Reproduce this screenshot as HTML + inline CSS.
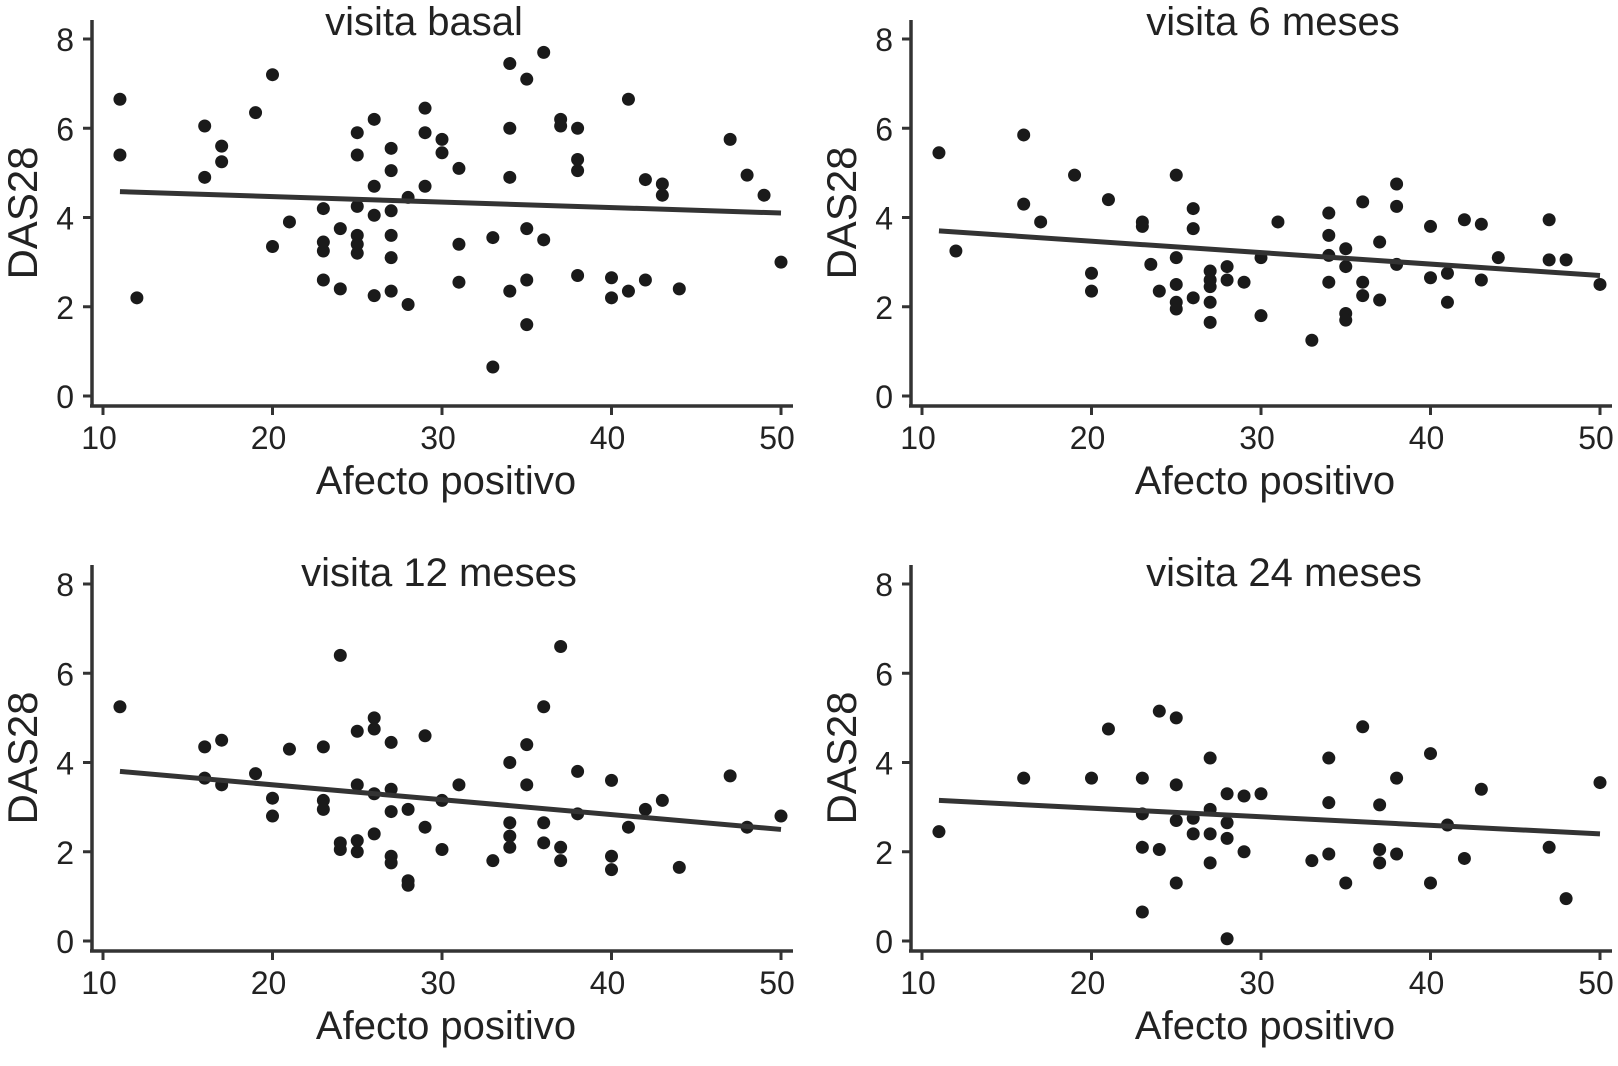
<!DOCTYPE html>
<html><head><meta charset="utf-8"><style>
html,body{margin:0;padding:0;background:#fff;}
svg text{font-family:"Liberation Sans",Arial,sans-serif;fill:#222;}
</style></head><body>
<svg id="chart" width="1618" height="1061" viewBox="0 0 1618 1061" xmlns="http://www.w3.org/2000/svg"></svg>
<script>
const panelTitles = ["visita basal","visita 6 meses","visita 12 meses","visita 24 meses"];
const xTicks = [10,20,30,40,50];
const yTicks = [0,2,4,6,8];
const p1x = [11,11,12,16,16,17,17,19,20,20,21,23,23,23,23,24,24,25,25,25,25,25,25,26,26,26,26,27,27,27,27,27,27,28,28,29,29,29,30,30,31,31,31,33,33,34,34,34,34,35,35,35,35,36,36,37,37,38,38,38,38,40,40,41,41,42,42,43,43,44,47,48,49,50];
const p1y = [6.65,5.4,2.2,6.05,4.9,5.6,5.25,6.35,7.2,3.35,3.9,4.2,3.45,3.25,2.6,3.75,2.4,5.9,5.4,4.25,3.6,3.4,3.2,6.2,4.7,4.05,2.25,5.55,5.05,4.15,3.6,3.1,2.35,4.45,2.05,6.45,5.9,4.7,5.75,5.45,5.1,3.4,2.55,3.55,0.65,7.45,6.0,4.9,2.35,7.1,3.75,2.6,1.6,7.7,3.5,6.2,6.05,6.0,5.3,5.05,2.7,2.65,2.2,6.65,2.35,4.85,2.6,4.75,4.5,2.4,5.75,4.95,4.5,3.0];
const p2x = [11,12,16,16,17,19,20,20,21,23,23,23.5,24,25,25,25,25,25,26,26,26,27,27,27,27,27,28,28,29,30,30,31,33,34,34,34,34,35,35,35,35,36,36,36,37,37,38,38,38,40,40,41,41,42,43,43,44,47,47,48,50];
const p2y = [5.45,3.25,5.85,4.3,3.9,4.95,2.75,2.35,4.4,3.9,3.8,2.95,2.35,4.95,3.1,2.5,2.1,1.95,4.2,3.75,2.2,2.8,2.6,2.45,2.1,1.65,2.9,2.6,2.55,3.1,1.8,3.9,1.25,3.6,4.1,3.15,2.55,3.3,2.9,1.85,1.7,4.35,2.55,2.25,3.45,2.15,4.75,4.25,2.95,3.8,2.65,2.75,2.1,3.95,3.85,2.6,3.1,3.95,3.05,3.05,2.5];
const p3x = [11,16,16,17,17,19,20,20,21,23,23,23,24,24,24,25,25,25,25,26,26,26,26,27,27,27,27,27,28,28,28,29,29,30,30,31,33,34,34,34,34,35,35,36,36,36,37,37,37,38,38,40,40,40,41,42,43,44,47,48,50];
const p3y = [5.25,4.35,3.65,4.5,3.5,3.75,3.2,2.8,4.3,4.35,3.15,2.95,6.4,2.2,2.05,4.7,3.5,2.25,2.0,5.0,4.75,3.3,2.4,4.45,3.4,2.9,1.9,1.75,2.95,1.35,1.25,4.6,2.55,3.15,2.05,3.5,1.8,4.0,2.65,2.35,2.1,4.4,3.5,5.25,2.65,2.2,6.6,2.1,1.8,3.8,2.85,3.6,1.9,1.6,2.55,2.95,3.15,1.65,3.7,2.55,2.8];
const p4x = [11,16,20,21,23,23,23,23,24,24,25,25,25,25,26,26,27,27,27,27,28,28,28,28,29,29,30,33,34,34,34,35,36,37,37,37,38,38,40,40,41,42,43,47,48,50];
const p4y = [2.45,3.65,3.65,4.75,3.65,2.85,2.1,0.65,2.05,5.15,5.0,3.5,2.7,1.3,2.75,2.4,4.1,2.95,2.4,1.75,2.65,2.3,3.3,0.05,3.25,2.0,3.3,1.8,4.1,3.1,1.95,1.3,4.8,3.05,2.05,1.75,3.65,1.95,4.2,1.3,2.6,1.85,3.4,2.1,0.95,3.55];
const fitStart = [4.58,3.7,3.8,3.15];
const fitEnd = [4.1,2.7,2.5,2.4];
const lineX = [11,50];

const svg = document.getElementById('chart');
const NS = 'http://www.w3.org/2000/svg';
function mk(tag, attrs, parent){const e=document.createElementNS(NS,tag);for(const k in attrs)e.setAttribute(k,attrs[k]);(parent||svg).appendChild(e);return e;}
const xs=[p1x,p2x,p3x,p4x], ys=[p1y,p2y,p3y,p4y];
const offX=[0,819,0,819], offY=[0,0,545,545];
const titleShift=[0,30,15,41], titleDy=[0,0,6,6];
const names=['basal','6-meses','12-meses','24-meses'];
for(let p=0;p<4;p++){
  const ox=offX[p], oy=offY[p];
  const sx=v=>103+ox+(v-10)*16.95;
  const sy=v=>396+oy-v*44.625;
  const g=mk('g',{});
  
  
  const t=mk('text',{x:sx(30)-18+titleShift[p],y:35+oy+titleDy[p],'font-size':40,'text-anchor':'middle'},g);
  t.textContent=panelTitles[p];
  
  
  const ya=mk('line',{x1:92+ox,y1:20+oy,x2:92+ox,y2:407+oy,stroke:'#333','stroke-width':3.5},g);
  
  
  const xa=mk('line',{x1:90+ox,y1:406+oy,x2:sx(50)+12,y2:406+oy,stroke:'#333','stroke-width':3.5},g);
  
  
  xTicks.forEach(v=>{
    mk('line',{x1:sx(v),y1:406+oy,x2:sx(v),y2:415+oy,stroke:'#333','stroke-width':3},g);
    const l=mk('text',{x:sx(v)-4,y:449+oy,'font-size':32,'text-anchor':'middle'},g);
    l.textContent=v;
    
    
  });
  yTicks.forEach(v=>{
    mk('line',{x1:83+ox,y1:sy(v),x2:92+ox,y2:sy(v),stroke:'#333','stroke-width':3},g);
    const l=mk('text',{x:74+ox,y:sy(v)+12,'font-size':32,'text-anchor':'end'},g);
    l.textContent=v;
    
    
  });
  const xt=mk('text',{x:sx(30)+4,y:494+oy,'font-size':40,'text-anchor':'middle'},g);
  xt.textContent='Afecto positivo';
  
  
  const yt=mk('text',{x:0,y:0,'font-size':42,'text-anchor':'middle',transform:`translate(${37+ox},${213+oy}) rotate(-90)`},g);
  yt.textContent='DAS28';
  
  
  xs[p].forEach((xv,i)=>{
    const c=mk('circle',{cx:sx(xv),cy:sy(ys[p][i]),r:6.5,fill:'#1a1a1a'},g);
    
    
  });
  const fl=mk('line',{x1:sx(lineX[0]),y1:sy(fitStart[p]),x2:sx(lineX[1]),y2:sy(fitEnd[p]),stroke:'#333','stroke-width':5},g);
  
  
}
</script>
</body></html>
